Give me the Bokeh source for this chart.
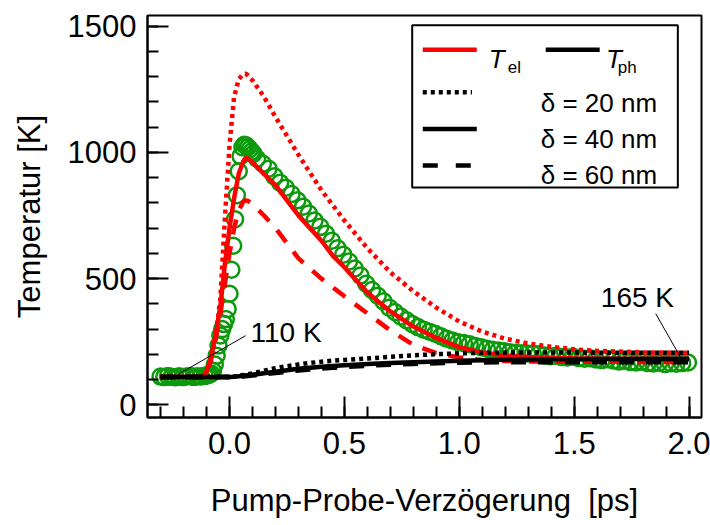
from bokeh.plotting import figure
from bokeh.models import FixedTicker, Range1d, Label, BoxAnnotation
from bokeh.embed import file_html
from bokeh.resources import INLINE

FONT = "Liberation Sans"

# ---- tick labels ----
x_ticks = [0.0, 0.5, 1.0, 1.5, 2.0]
x_tick_labels = ["0.0", "0.5", "1.0", "1.5", "2.0"]
x_minor = [-0.3, -0.2, -0.1, 0.0, 0.1, 0.2, 0.3, 0.4, 0.5, 0.6, 0.7, 0.8, 0.9, 1.0,
           1.1, 1.2, 1.3, 1.4, 1.5, 1.6, 1.7, 1.8, 1.9, 2.0]
y_ticks = [0, 500, 1000, 1500]
y_tick_labels = ["0", "500", "1000", "1500"]
y_minor = [0, 100, 200, 300, 400, 500, 600, 700, 800, 900, 1000, 1100, 1200, 1300, 1400, 1500]

# ---- model curves (common delay grid, ps) ----
t_model = [-0.30, -0.20, -0.12, -0.10, -0.08, -0.06, -0.04, -0.02, 0.00, 0.02, 0.04, 0.06,
           0.07, 0.08, 0.10, 0.15, 0.20, 0.25, 0.30, 0.35, 0.40, 0.45, 0.50, 0.60, 0.70,
           0.80, 0.90, 1.00, 1.10, 1.20, 1.30, 1.40, 1.50, 1.60, 1.80, 2.00]
tel_20 = [110, 110, 110, 135, 185, 270, 420, 740, 1030, 1220, 1290, 1310,
          1312, 1305, 1285, 1220, 1140, 1065, 990, 920, 850, 790, 730, 620, 525,
          450, 385, 330, 290, 262, 243, 230, 220, 214, 208, 206]
tel_40 = [110, 110, 110, 130, 190, 280, 390, 560, 700, 820, 915, 965,
          978, 975, 960, 915, 870, 810, 750, 700, 650, 590, 545, 445, 370,
          310, 265, 228, 207, 195, 190, 187, 185, 184, 183, 182]
tel_60 = [110, 110, 110, 125, 180, 260, 360, 480, 600, 700, 770, 805,
          810, 808, 795, 750, 700, 640, 580, 540, 500, 465, 430, 362, 295,
          238, 205, 188, 178, 174, 172, 172, 171, 171, 170, 170]
tph_20 = [110, 110, 110, 110, 110, 110, 110, 110, 110, 112, 115, 118,
          120, 121, 125, 135, 145, 153, 160, 166, 171, 175, 178, 184, 190,
          196, 201, 204, 206, 207, 207, 207, 207, 206, 206, 206]
tph_40 = [110, 110, 110, 110, 110, 110, 110, 110, 110, 111, 113, 115,
          116, 117, 119, 125, 131, 137, 143, 147, 151, 154, 157, 162, 166,
          169, 172, 175, 177, 179, 180, 181, 181, 182, 182, 182]
tph_60 = [110, 110, 110, 110, 110, 110, 110, 110, 110, 111, 112, 113,
          114, 115, 117, 122, 127, 132, 137, 141, 145, 148, 151, 156, 160,
          163, 166, 168, 169, 170, 170, 170, 170, 170, 170, 170]

# ---- measured electron temperature (circles) ----
t_meas = [-0.300, -0.284, -0.268, -0.252, -0.236, -0.220, -0.204, -0.188, -0.172, -0.156,
          -0.140, -0.124, -0.108, -0.096, -0.088, -0.080, -0.072,
          -0.064, -0.056, -0.048, -0.040, -0.032, -0.024, -0.016, -0.008, 0.000, 0.008,
          0.016, 0.024, 0.032, 0.040, 0.048, 0.056, 0.064, 0.072, 0.080, 0.088, 0.096, 0.104,
          0.120, 0.145, 0.170, 0.195, 0.220, 0.245, 0.270, 0.295, 0.320, 0.345,
          0.370, 0.395, 0.420, 0.445, 0.470, 0.495, 0.520, 0.545, 0.570, 0.595,
          0.620, 0.645, 0.670, 0.695, 0.720, 0.745, 0.770, 0.795, 0.820, 0.845,
          0.870, 0.895, 0.920, 0.945, 0.970, 0.995, 1.020, 1.045, 1.070, 1.095,
          1.120, 1.145, 1.170, 1.195, 1.220, 1.245, 1.270, 1.295, 1.320, 1.345,
          1.370, 1.395, 1.420, 1.445, 1.470, 1.495, 1.520, 1.545, 1.570, 1.595,
          1.620, 1.645, 1.670, 1.695, 1.720, 1.745, 1.770, 1.795, 1.820, 1.845,
          1.870, 1.895, 1.920, 1.945, 1.970, 1.995]
T_meas = [112, 110, 114, 111, 109, 113, 110, 112, 114, 111,
          113, 112, 115, 117, 119, 124, 135,
          160, 195, 235, 275, 300, 320, 340, 380, 440, 535,
          630, 735, 830, 925, 985, 1020, 1030, 1028, 1020, 1012, 1003, 995,
          975, 955, 935, 905, 880, 860, 835, 810, 785, 758,
          730, 705, 678, 650, 620, 595, 568, 540, 512, 480,
          455, 432, 410, 385, 368, 350, 335, 320, 308, 298,
          290, 282, 272, 262, 255, 248, 245, 240, 233, 228,
          222, 218, 215, 212, 208, 206, 204, 203, 202, 200,
          196, 193, 195, 190, 188, 191, 186, 183, 185, 180,
          178, 181, 176, 172, 175, 170, 168, 171, 166, 164,
          167, 162, 165, 163, 166, 168]

p = figure(width=710, height=525,
           x_range=Range1d(-0.357, 2.054), y_range=Range1d(-50, 1542),
           output_backend="svg", toolbar_location=None,
           min_border_left=147, min_border_right=9, min_border_top=15, min_border_bottom=108)
p.background_fill_color = "white"
p.border_fill_color = "white"
p.outline_line_color = "black"
p.outline_line_width = 2
p.xgrid.visible = False
p.ygrid.visible = False

p.xaxis.ticker = FixedTicker(ticks=x_ticks, minor_ticks=x_minor)
p.yaxis.ticker = FixedTicker(ticks=y_ticks, minor_ticks=y_minor)
p.xaxis.major_label_overrides = {t: s for t, s in zip(x_ticks, x_tick_labels)}
p.yaxis.major_label_overrides = {t: s for t, s in zip(y_ticks, y_tick_labels)}

for ax in (p.xaxis[0], p.yaxis[0]):
    ax.axis_line_width = 2
    ax.major_tick_line_width = 2
    ax.minor_tick_line_width = 2
    ax.major_tick_in = 21
    ax.major_tick_out = 0
    ax.minor_tick_in = 11
    ax.minor_tick_out = 0
    ax.major_label_text_font = FONT
    ax.major_label_text_font_size = "31px"
    ax.major_label_text_color = "black"
    ax.axis_label_text_font = FONT
    ax.axis_label_text_font_size = "31px"
    ax.axis_label_text_font_style = "normal"
    ax.axis_label_text_color = "black"

p.xaxis.major_label_standoff = 14
p.yaxis.major_label_standoff = 11
p.xaxis.axis_label = "Pump-Probe-Verzögerung\u00a0 [ps]"
p.yaxis.axis_label = "Temperatur [K]"
p.xaxis.axis_label_standoff = 26
p.yaxis.axis_label_standoff = 18

GREEN = "#0c9a0c"
RED = "#ff0000"

p.scatter(t_meas, T_meas, size=16, fill_color=None, line_color=GREEN, line_width=2.5)

p.line(t_model, tel_20, line_color=RED, line_width=4.5, line_dash="4 4")
p.line(t_model, tel_60, line_color=RED, line_width=4.5, line_dash="15 12")
p.line(t_model, tel_40, line_color=RED, line_width=4.5)
p.line(t_model, tph_20, line_color="black", line_width=4.5, line_dash="4 4")
p.line(t_model, tph_60, line_color="black", line_width=5, line_dash="15 12")
p.line(t_model, tph_40, line_color="black", line_width=4.5)

# annotations
p.line([-0.221, 0.070], [122, 274], line_color="black", line_width=1)
p.add_layout(Label(x=0.0915, y=286, text="110 K", text_font=FONT, text_font_size="28px",
                   text_baseline="middle", text_color="black"))
p.line([1.855, 1.964], [361, 186], line_color="black", line_width=1)
p.add_layout(Label(x=1.616, y=425, text="165 K", text_font=FONT, text_font_size="28px",
                   text_baseline="middle", text_color="black"))

# legend box (drawn beneath the legend line samples)
p.add_layout(BoxAnnotation(left=0.795, right=1.951, top=1503, bottom=861,
                           fill_color="white", fill_alpha=1.0,
                           line_color="black", line_width=2, line_alpha=1.0,
                           level="underlay"))
p.line([0.841, 1.076], [1406, 1406], line_color=RED, line_width=4.5)
p.line([1.376, 1.611], [1406, 1406], line_color="black", line_width=4.5)
p.line([0.841, 1.055], [1238, 1238], line_color="black", line_width=4.5, line_dash="4 4")
p.line([0.841, 1.076], [1093, 1093], line_color="black", line_width=4.5)
p.line([0.841, 1.055], [948, 948], line_color="black", line_width=4.5, line_dash="15 18")

def lab(x, y, s, size="26px", style="normal"):
    p.add_layout(Label(x=x, y=y, text=s, text_font=FONT, text_font_size=size,
                       text_font_style=style, text_baseline="alphabetic", text_color="black"))

lab(1.128, 1371, "T", style="italic")
lab(1.211, 1336, "el", size="17px")
lab(1.638, 1371, "T", style="italic")
lab(1.690, 1336, "ph", size="17px")
lab(1.3545, 1195, "δ = 20 nm")
lab(1.3545, 1053, "δ = 40 nm")
lab(1.3545, 912, "δ = 60 nm")

open("out.html", "w").write(file_html(p, INLINE))
